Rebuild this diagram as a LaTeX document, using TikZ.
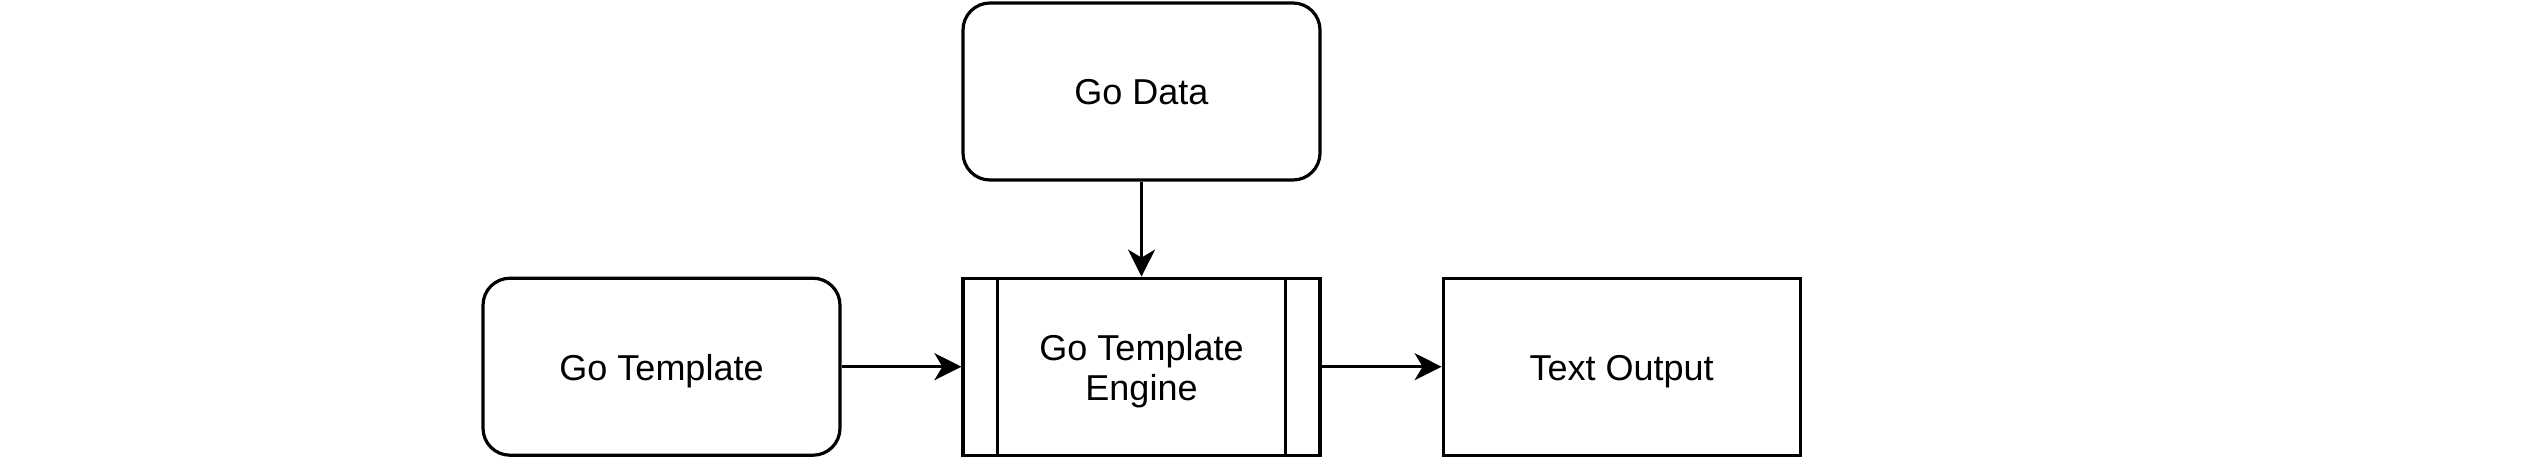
\documentclass[tikz,border=0pt]{standalone}
\usepackage{fontspec}
\setmainfont{Liberation Sans}
\usetikzlibrary{arrows.meta}
\begin{document}
\begin{tikzpicture}[x=1pt,y=-1pt,
  box/.style={draw=black,line width=3.2pt,minimum width=357pt,minimum height=177pt,inner sep=0pt,
    font=\fontsize{36}{40}\selectfont,align=center,fill=white,text height=26.6pt,text depth=0pt},
  rbox/.style={box,rounded corners=27pt},
  conn/.style={line width=3.2pt,-{Stealth[length=27pt,width=27pt,inset=8pt]}}]
\useasboundingbox (0,0) rectangle (2526,459);
\node[rbox] (data) at (1141.5,91.5) {Go Data};
\node[rbox] (tmpl) at (661.5,366.7) {Go Template};
\node[box,text height=66.6pt] (eng) at (1141.5,366.7) {Go Template\\Engine};
\node[box] (out) at (1621.7,366.7) {Text Output};
\draw[line width=3.2pt] ([xshift=36pt]eng.north west) -- ([xshift=36pt]eng.south west);
\draw[line width=3.2pt] ([xshift=-36pt]eng.north east) -- ([xshift=-36pt]eng.south east);
\draw[conn] (data) -- (eng);
\draw[conn] (tmpl) -- (eng);
\draw[conn] (eng) -- (out);
\end{tikzpicture}
\end{document}
